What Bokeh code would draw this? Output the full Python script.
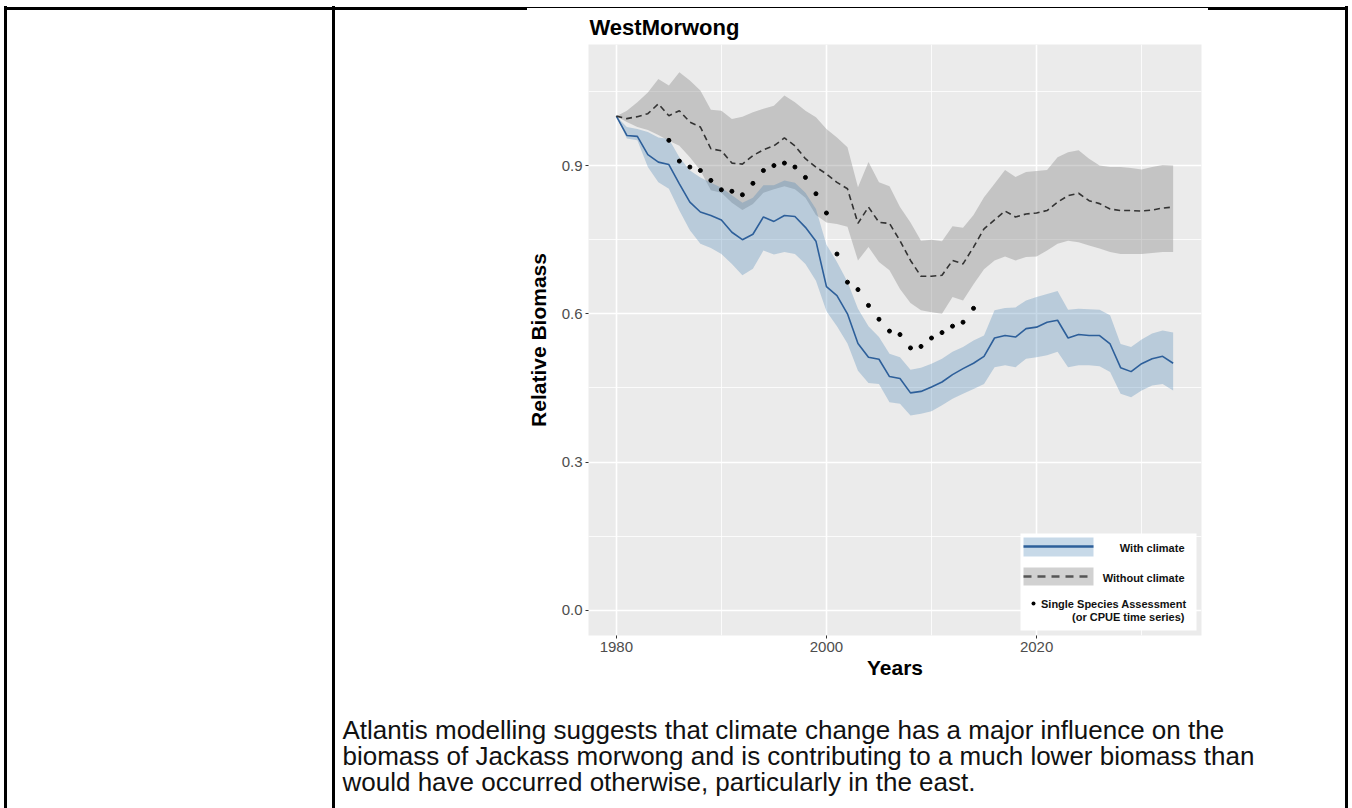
from bokeh.plotting import figure
from bokeh.models import Range1d, FixedTicker, Label, BoxAnnotation, Arrow, ColumnDataSource, Title, Div
from bokeh.layouts import column
from bokeh.embed import file_html
from bokeh.resources import INLINE

# ---------------- data ----------------
years = [1980, 1981, 1982, 1983, 1984, 1985, 1986, 1987, 1988, 1989,
         1990, 1991, 1992, 1993, 1994, 1995, 1996, 1997, 1998, 1999,
         2000, 2001, 2002, 2003, 2004, 2005, 2006, 2007, 2008, 2009,
         2010, 2011, 2012, 2013, 2014, 2015, 2016, 2017, 2018, 2019,
         2020, 2021, 2022, 2023, 2024, 2025, 2026, 2027, 2028, 2029,
         2030, 2031, 2032, 2033]

with_climate = [1.000, 0.961, 0.959, 0.922, 0.907, 0.902, 0.863, 0.826, 0.806, 0.799,
                0.790, 0.765, 0.750, 0.761, 0.796, 0.787, 0.799, 0.797, 0.775, 0.747,
                0.655, 0.637, 0.600, 0.540, 0.512, 0.508, 0.473, 0.469, 0.440, 0.443,
                0.452, 0.462, 0.477, 0.489, 0.500, 0.514, 0.551, 0.556, 0.553, 0.570,
                0.573, 0.583, 0.587, 0.551, 0.558, 0.556, 0.556, 0.539, 0.491, 0.483,
                0.499, 0.509, 0.514, 0.500]
with_climate_hi = [1.000, 0.978, 0.974, 0.968, 0.957, 0.954, 0.917, 0.890, 0.876, 0.865,
                   0.855, 0.840, 0.825, 0.835, 0.860, 0.860, 0.870, 0.865, 0.845, 0.812,
                   0.740, 0.705, 0.665, 0.610, 0.575, 0.553, 0.519, 0.512, 0.487, 0.491,
                   0.499, 0.509, 0.523, 0.533, 0.546, 0.556, 0.607, 0.612, 0.613, 0.627,
                   0.634, 0.640, 0.646, 0.608, 0.610, 0.609, 0.608, 0.597, 0.539, 0.533,
                   0.548, 0.560, 0.566, 0.562]
with_climate_lo = [1.000, 0.955, 0.951, 0.897, 0.866, 0.853, 0.809, 0.769, 0.742, 0.733,
                   0.721, 0.701, 0.678, 0.691, 0.728, 0.720, 0.725, 0.721, 0.701, 0.667,
                   0.605, 0.575, 0.540, 0.485, 0.460, 0.458, 0.421, 0.418, 0.394, 0.398,
                   0.403, 0.415, 0.428, 0.438, 0.448, 0.458, 0.492, 0.496, 0.492, 0.509,
                   0.512, 0.516, 0.523, 0.492, 0.496, 0.496, 0.494, 0.482, 0.438, 0.431,
                   0.445, 0.455, 0.458, 0.445]

without_climate = [1.000, 0.995, 0.999, 1.005, 1.025, 1.001, 1.011, 0.988, 0.978, 0.934,
                   0.930, 0.905, 0.903, 0.920, 0.932, 0.940, 0.956, 0.940, 0.914, 0.897,
                   0.883, 0.866, 0.853, 0.783, 0.816, 0.785, 0.783, 0.748, 0.708, 0.676,
                   0.676, 0.678, 0.708, 0.701, 0.735, 0.772, 0.790, 0.808, 0.796, 0.802,
                   0.804, 0.809, 0.826, 0.839, 0.844, 0.829, 0.823, 0.812, 0.809, 0.809,
                   0.808, 0.810, 0.814, 0.816]
without_climate_hi = [1.000, 1.011, 1.028, 1.048, 1.075, 1.062, 1.089, 1.072, 1.052, 1.013,
                      1.011, 0.994, 0.999, 1.008, 1.015, 1.021, 1.042, 1.028, 1.011, 0.998,
                      0.974, 0.957, 0.937, 0.856, 0.907, 0.866, 0.858, 0.816, 0.785, 0.748,
                      0.750, 0.747, 0.777, 0.774, 0.800, 0.836, 0.863, 0.891, 0.877, 0.887,
                      0.889, 0.891, 0.917, 0.927, 0.931, 0.914, 0.900, 0.897, 0.897, 0.895,
                      0.892, 0.897, 0.901, 0.900]
without_climate_lo = [1.000, 0.988, 0.978, 0.972, 0.962, 0.950, 0.940, 0.917, 0.890, 0.850,
                      0.845, 0.825, 0.810, 0.822, 0.845, 0.852, 0.858, 0.852, 0.835, 0.800,
                      0.785, 0.782, 0.776, 0.708, 0.735, 0.705, 0.688, 0.650, 0.622, 0.607,
                      0.603, 0.600, 0.634, 0.627, 0.660, 0.690, 0.708, 0.716, 0.708, 0.715,
                      0.716, 0.728, 0.742, 0.748, 0.745, 0.738, 0.732, 0.725, 0.721, 0.721,
                      0.721, 0.723, 0.725, 0.725]

ssa_years = [1985, 1986, 1987, 1988, 1989, 1990, 1991, 1992, 1993, 1994,
             1995, 1996, 1997, 1998, 1999, 2000, 2001, 2002, 2003, 2004,
             2005, 2006, 2007, 2008, 2009, 2010, 2011, 2012, 2013, 2014]
ssa_values = [0.951, 0.909, 0.897, 0.890, 0.870, 0.851, 0.848, 0.841, 0.864, 0.890,
              0.900, 0.905, 0.897, 0.876, 0.843, 0.804, 0.721, 0.664, 0.649, 0.617,
              0.589, 0.565, 0.558, 0.531, 0.534, 0.551, 0.562, 0.575, 0.583, 0.611]

x_ticks = [1980, 2000, 2020]
x_minor_ticks = [1990, 2010, 2030]
y_ticks = [0.0, 0.3, 0.6, 0.9]
y_tick_labels = ["0.0", "0.3", "0.6", "0.9"]
y_minor_ticks = [0.15, 0.45, 0.75, 1.05]

title_text = "WestMorwong"
x_title = "Years"
y_title = "Relative Biomass"
legend_labels = ["With climate", "Without climate", "Single Species Assessment", "(or CPUE time series)"]
caption_lines = [
    "Atlantis modelling suggests that climate change has a major influence on the",
    "biomass of Jackass morwong and is contributing to a much lower biomass than",
    "would have occurred otherwise, particularly in the east.",
]

FONT = "Liberation Sans"
BLUE = "#2d5f9a"
W, H = 1350, 806
FL, FR, FT, FB = 588, 1201, 44, 635   # plot panel edges on the page

src = ColumnDataSource(dict(year=years, wc=with_climate, wc_lo=with_climate_lo, wc_hi=with_climate_hi,
                            nc=without_climate, nc_lo=without_climate_lo, nc_hi=without_climate_hi))
ssa = ColumnDataSource(dict(year=ssa_years, v=ssa_values))

p = figure(width=W, height=H,
           x_range=Range1d(1977.35, 2035.7), y_range=Range1d(-0.051, 1.145),
           output_backend="svg", toolbar_location=None,
           min_border_left=FL, min_border_right=W - FR, min_border_top=FT, min_border_bottom=H - FB,
           background_fill_color="#ebebeb", border_fill_color="white", outline_line_color=None)

# title
p.title.text = title_text
p.title.align = "left"
p.title.offset = 1
p.title.standoff = 10
p.title.text_font = FONT
p.title.text_font_size = "22px"
p.title.text_font_style = "bold"
p.title.text_color = "black"

# grid / axes
p.xaxis.ticker = FixedTicker(ticks=x_ticks, minor_ticks=x_minor_ticks)
p.yaxis.ticker = FixedTicker(ticks=y_ticks, minor_ticks=y_minor_ticks)
p.yaxis.major_label_overrides = {t: l for t, l in zip(y_ticks, y_tick_labels)}
for g in (p.xgrid, p.ygrid):
    g.grid_line_color = "white"
    g.grid_line_width = 1.6
    g.minor_grid_line_color = "white"
    g.minor_grid_line_width = 0.8
for ax in (p.xaxis, p.yaxis):
    ax.axis_line_color = None
    ax.major_tick_line_color = "#333333"
    ax.major_tick_line_width = 1
    ax.major_tick_out = 3
    ax.major_tick_in = 0
    ax.minor_tick_line_color = None
    ax.major_label_text_font = FONT
    ax.major_label_text_font_size = "15px"
    ax.major_label_text_color = "#4d4d4d"
    ax.axis_label_text_font = FONT
    ax.axis_label_text_font_size = "21px"
    ax.axis_label_text_font_style = "bold"
    ax.axis_label_text_color = "black"
p.xaxis.axis_label = x_title
p.yaxis.axis_label = y_title
p.xaxis.major_label_standoff = 2
p.yaxis.major_label_standoff = 2
p.xaxis.axis_label_standoff = 1
p.yaxis.axis_label_standoff = 9

# data
p.varea(x="year", y1="nc_lo", y2="nc_hi", source=src, fill_color="#7f7f7f", fill_alpha=0.36)
p.varea(x="year", y1="wc_lo", y2="wc_hi", source=src, fill_color="steelblue", fill_alpha=0.3)
p.line(x="year", y="wc", source=src, line_color=BLUE, line_width=1.6)
p.line(x="year", y="nc", source=src, line_color="#333333", line_width=1.6, line_dash="6 4")
p.scatter(x="year", y="v", source=ssa, size=4, color="black")

# screen coords relative to the plot panel (x from left edge, y up from bottom edge)
def sx(px):
    return px - FL
def sy(py):
    return FB - py

def box(l, r, t, b, **kw):
    p.add_layout(BoxAnnotation(left=sx(l), right=sx(r), top=sy(t), bottom=sy(b),
                               left_units="screen", right_units="screen",
                               top_units="screen", bottom_units="screen", **kw))

# legend (manual, ggplot-like, inside the panel)
box(1020, 1196, 533, 630, fill_color="white", fill_alpha=1, line_color=None)
box(1023, 1093, 537, 556, fill_color="steelblue", fill_alpha=0.3, line_color=None)
box(1023, 1093, 567, 585, fill_color="#7f7f7f", fill_alpha=0.36, line_color=None)
p.add_layout(Arrow(end=None, x_start=sx(1023), y_start=sy(546), x_end=sx(1093), y_end=sy(546),
                   start_units="screen", end_units="screen", line_color=BLUE, line_width=2.5))
p.add_layout(Arrow(end=None, x_start=sx(1023), y_start=sy(576), x_end=sx(1093), y_end=sy(576),
                   start_units="screen", end_units="screen", line_color="#555555", line_width=2.5,
                   line_dash="8 6"))
box(1031, 1035, 601, 605, fill_color="black", fill_alpha=1, line_color=None, border_radius=2)
leg_pos = [(1184, 553), (1184, 583), (1186, 609), (1184, 622)]
for (lx, ly), txt in zip(leg_pos, legend_labels):
    p.add_layout(Label(x=sx(lx), y=sy(ly), x_units="screen", y_units="screen", text=txt, text_align="right",
                       text_font=FONT, text_font_size="11px", text_font_style="bold", text_color="#111111"))

# caption below the chart (document text); a blank spacer line keeps the panel size fixed
spacer = Title(text=" ", align="left", standoff=9, vertical_align="top",
               text_font=FONT, text_font_size="20px")
p.add_layout(spacer, "below")
cap = Title(text="\n".join(caption_lines), align="left", offset=342 - FL, standoff=0,
            vertical_align="top", text_font=FONT, text_font_size="26px", text_font_style="normal",
            text_color="#111111", text_line_height=0.87)
p.add_layout(cap, "below")

# table borders of the surrounding document
rules = [(4, 6.5, 6, 1000), (332, 334.5, 6, 1000), (1345, 1347.5, 6, 1000),
         (4, 527, 6.5, 9.5), (527, 1208, 6.5, 7.8), (1208, 1347.5, 6.5, 9.5)]
html = "".join(
    f'<div style="position:fixed;left:{l}px;top:{t}px;width:{r - l}px;height:{b - t}px;background:#000;"></div>'
    for l, r, t, b in rules)
borders = Div(text=html, width=1, height=1)

open("out.html", "w").write(file_html(column(p, borders), INLINE))
